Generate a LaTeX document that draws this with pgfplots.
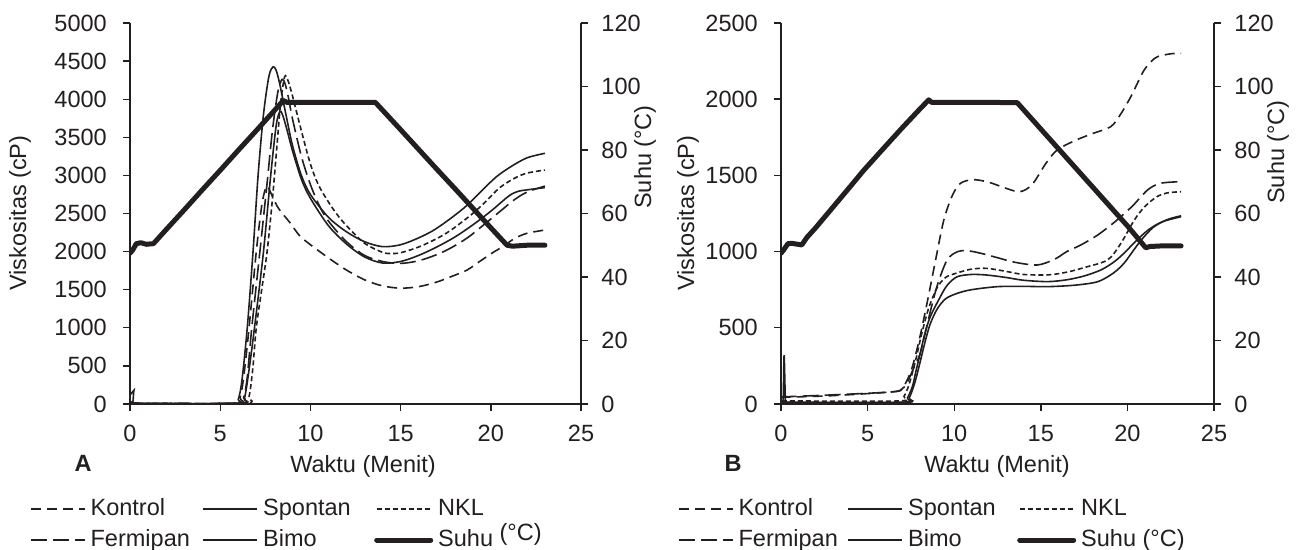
\documentclass[border=0pt]{standalone}
\usepackage{fontspec}
\setmainfont{Liberation Sans}
\usepackage{pgfplots}
\pgfplotsset{compat=1.18}
\definecolor{ink}{HTML}{231F20}
\newcommand{\fs}{\fontsize{11.8}{14}\selectfont}
\pgfplotsset{
  base/.style={
    scale only axis, height=190.5bp, xmin=0, xmax=25,
    tick align=outside, major tick length=3.5bp,
    tick style={ink, line width=0.7bp},
    axis line style={ink, line width=0.7bp, -},
    tick label style={font=\fs, text=ink},
    /pgf/number format/assume math mode=true,
    /pgf/number format/1000 sep={},
  },
  prim/.style={base, axis x line*=bottom, axis y line*=left,
    xtick={0,5,...,25},
    x axis line style={shorten <=-3bp, shorten >=-3bp},
    yticklabel style={xshift=-4bp}, xticklabel style={yshift=-3bp}},
  sec/.style={base, axis x line=none, axis y line*=right,
    ymin=0, ymax=120, ytick={0,20,...,120},
    yticklabel style={xshift=2.6bp},
    legend columns=3,
    legend cell align=left,
    legend image code/.code={\draw[##1] (0bp,0bp) -- (27bp,0bp);},
    legend style={anchor=north west, draw=none, fill=none, inner sep=0pt, outer sep=0pt,
      font=\fs, text=ink, row sep=4.4bp,
      nodes={inner sep=0pt, text height=8.6bp, text depth=2.5bp},
      /tikz/every odd column/.append style={column sep=2.5bp}}},
  kontrol/.style={ink, line width=0.8bp, dash pattern=on 5bp off 3bp},
  spontan/.style={ink, line width=0.8bp},
  nkl/.style={ink, line width=0.8bp, dash pattern=on 2.5bp off 1.5bp},
  fermipan/.style={ink, line width=0.8bp, dash pattern=on 8bp off 3bp},
  bimo/.style={ink, line width=0.8bp},
  suhu/.style={ink, line width=2.5bp, line cap=round, line join=round},
}
\begin{document}
\fs
\begin{tikzpicture}
\useasboundingbox (0,0) rectangle (650bp,275bp);
% ================= Panel A =================
\begin{axis}[prim, at={(65bp,73bp)}, anchor=south west, width=225.5bp,
  ymin=0, ymax=5000, ytick={0,500,...,5000}]
\addplot[kontrol, smooth, tension=0.5] coordinates {(0,10)(5.9,10)(6.1,80)(6.3,350)(6.6,1000)(7.0,2000)(7.3,2600)(7.5,2820)(7.62,2860)(7.75,2800)(8.2,2580)(8.9,2370)(9.44,2200)(10.4,2020)(11.85,1780)(13,1630)(14,1550)(15,1520)(16,1540)(17,1600)(18,1690)(18.7,1760)(19.5,1890)(20.2,2000)(20.7,2070)(21.3,2170)(22,2240)(23,2283)};
\addplot[spontan, smooth, tension=0.5] coordinates {(0,10)(0.15,10)(0.22,180)(0.3,10)(5.8,10)(6.0,60)(6.2,300)(6.5,1000)(6.82,2000)(7.1,3000)(7.4,3800)(7.7,4300)(7.93,4425)(8.1,4380)(8.3,4200)(8.6,3850)(9,3400)(9.5,3000)(10,2750)(11,2450)(12,2260)(13,2130)(14,2065)(15,2090)(16,2180)(16.85,2283)(17.8,2440)(18.7,2611)(19.5,2800)(20.3,2980)(21.1,3113)(22,3230)(23,3290)};
\addplot[nkl, smooth, tension=0.5] coordinates {(0,10)(6.3,10)(6.6,100)(6.8,450)(7.0,1000)(7.3,1500)(7.6,2000)(7.9,2700)(8.15,3400)(8.35,3950)(8.57,4294)(8.75,4250)(9,4050)(9.44,3640)(10,3150)(10.5,2850)(11.3,2545)(12,2340)(13,2110)(14,1990)(14.5,1975)(15,1985)(16,2060)(17,2170)(17.8,2283)(19,2500)(19.8,2676)(20.5,2840)(21.3,2961)(22,3030)(23,3070)};
\addplot[fermipan, smooth, tension=0.5] coordinates {(0,10)(6.1,10)(6.3,80)(6.5,350)(6.75,1000)(7.2,2000)(7.6,2900)(7.9,3600)(8.2,4100)(8.43,4260)(8.6,4200)(8.8,4000)(9,3750)(9.5,3250)(10,2880)(10.5,2600)(11,2400)(12,2130)(13,1950)(14,1870)(15,1845)(16,1880)(17,1960)(17.8,2050)(18.7,2180)(19.5,2330)(20.6,2545)(21.3,2680)(22,2780)(23,2860)};
\addplot[bimo, smooth, tension=0.5] coordinates {(0,10)(6.1,10)(6.35,80)(6.6,450)(6.9,1000)(7.4,2000)(7.8,3000)(8.1,3650)(8.3,3835)(8.45,3800)(8.7,3600)(9,3330)(9.5,2950)(10,2700)(11,2340)(12,2100)(13,1930)(14,1850)(15,1870)(16,1950)(17,2060)(18,2190)(19,2350)(20,2530)(21,2730)(21.5,2790)(22,2810)(23,2840)};
\end{axis}
\begin{axis}[sec, at={(65bp,73bp)}, anchor=south west, width=225.5bp,
  legend style={at={(axis description cs:-0.2217,-0.2465)}}]
\addplot[suhu, forget plot] coordinates {(0,47.5)(0.15,48.5)(0.35,50.5)(0.6,50.8)(0.9,50.3)(1.3,50.5)(2,54.9)(3,61.1)(4,67.4)(5,73.6)(6,79.9)(7,86.1)(8,92.4)(8.5,95.6)(8.7,95)(10,95)(12,95)(13.6,95)(15,86.4)(16,80.2)(17,74.0)(18,67.9)(19,61.7)(20,55.5)(20.9,50)(21.2,49.7)(22,50)(23,50)};
\addlegendimage{kontrol}\addlegendentry{\makebox[56bp][l]{Kontrol}}
\addlegendimage{spontan}\addlegendentry{\makebox[55.5bp][l]{Spontan}}
\addlegendimage{nkl}\addlegendentry{NKL}
\addlegendimage{fermipan}\addlegendentry{\makebox[56bp][l]{Fermipan}}
\addlegendimage{bimo}\addlegendentry{\makebox[55.5bp][l]{Bimo}}
\addlegendimage{suhu}\addlegendentry{Suhu \raisebox{3bp}{(°C)}}
\end{axis}
% ================= Panel B =================
\begin{axis}[prim, at={(390.5bp,73bp)}, anchor=south west, width=216.5bp,
  ymin=0, ymax=2500, ytick={0,500,...,2500}]
\addplot[kontrol, smooth, tension=0.5] coordinates {(0,48)(0.3,45)(3,55)(6.5,81)(7.0,105)(7.3,160)(7.6,250)(8.0,430)(8.43,661)(8.9,930)(9.4,1207)(9.9,1370)(10.36,1448)(11.1,1472)(12,1455)(13,1415)(13.8,1393)(14.5,1440)(15.3,1580)(15.95,1667)(17,1730)(18,1775)(19.04,1820)(19.6,1900)(20.2,2017)(20.6,2110)(20.97,2192)(21.4,2250)(21.74,2279)(22.5,2298)(23.1,2301)};
\addplot[spontan, smooth, tension=0.5] coordinates {(0,10)(0.12,10)(0.18,320)(0.26,15)(0.4,12)(7.0,12)(7.3,40)(7.6,120)(7.8,220)(8.04,333)(8.3,460)(8.62,573)(9.2,704)(9.6,780)(10.17,835)(11,850)(11.9,846)(13,830)(14,812)(15.4,803)(16.5,815)(17.5,840)(18.46,879)(19.2,930)(19.8,989)(20.5,1070)(21.2,1142)(22,1195)(23.1,1229)};
\addplot[nkl, smooth, tension=0.5] coordinates {(0,20)(0.3,20)(6.8,20)(7.1,50)(7.4,130)(7.8,300)(8.1,450)(8.5,620)(9.0,760)(9.5,830)(10.17,860)(11,885)(11.9,890)(13,870)(14,850)(15.4,847)(16.5,865)(17.5,895)(18.85,945)(19.6,1050)(20.4,1207)(21,1295)(21.7,1360)(22.3,1385)(23.1,1393)};
\addplot[fermipan, smooth, tension=0.5] coordinates {(0,50)(0.3,48)(3,60)(6.5,80)(7.0,100)(7.27,136)(7.6,220)(8.04,333)(8.5,550)(9.0,770)(9.59,945)(10.2,1000)(10.75,1006)(11.5,990)(12.5,960)(13.5,930)(14.8,912)(15.8,950)(16.5,1000)(17.3,1043)(18.3,1110)(19.4,1207)(20.3,1300)(21.16,1404)(21.9,1448)(23.1,1459)};
\addplot[bimo, smooth, tension=0.5] coordinates {(0,10)(7.1,10)(7.4,40)(7.7,130)(8.0,260)(8.3,400)(8.6,520)(9.0,620)(9.5,690)(10.17,726)(11,750)(12.5,770)(14,772)(15.4,770)(17,780)(18.3,803)(19.2,860)(19.8,923)(20.3,1000)(20.8,1076)(21.5,1160)(22.3,1210)(23.1,1235)};
\end{axis}
\begin{axis}[sec, at={(390.5bp,73bp)}, anchor=south west, width=216.5bp,
  legend style={at={(axis description cs:-0.2379,-0.2465)}}]
\addplot[suhu, forget plot] coordinates {(0,47.5)(0.15,48.5)(0.4,50.5)(0.62,50.6)(1.2,50.1)(1.5,52.5)(2,55.5)(3,62)(4,68.5)(4.76,73.5)(6,81)(7,87)(8,92.8)(8.53,95.8)(8.7,95)(10,95)(12,95)(13.64,94.9)(15,86.6)(16,80.5)(17,74.4)(18,68.3)(19,62.2)(20,56.1)(21.06,49.2)(21.3,49.6)(22,49.8)(23.1,49.8)};
\addlegendimage{kontrol}\addlegendentry{\makebox[54.5bp][l]{Kontrol}}
\addlegendimage{spontan}\addlegendentry{\makebox[54.5bp][l]{Spontan}}
\addlegendimage{nkl}\addlegendentry{NKL}
\addlegendimage{fermipan}\addlegendentry{\makebox[54.5bp][l]{Fermipan}}
\addlegendimage{bimo}\addlegendentry{\makebox[54.5bp][l]{Bimo}}
\addlegendimage{suhu}\addlegendentry{Suhu (°C)}
\end{axis}
% ================= labels =================
\begin{scope}[every node/.style={font=\fs, text=ink}]
\node[rotate=90] at (10bp,168.5bp) {Viskositas (cP)};
\node[rotate=90] at (322.5bp,196.5bp) {Suhu (°C)};
\node at (181.5bp,42bp) {Waktu (Menit)};
\node[font=\fs\bfseries] at (41.5bp,43.5bp) {A};
\node[rotate=90] at (344bp,168.5bp) {Viskositas (cP)};
\node[rotate=90] at (639bp,199bp) {Suhu (°C)};
\node at (498.5bp,42bp) {Waktu (Menit)};
\node[font=\fs\bfseries] at (366.5bp,43.5bp) {B};
\end{scope}
\end{tikzpicture}
\end{document}
